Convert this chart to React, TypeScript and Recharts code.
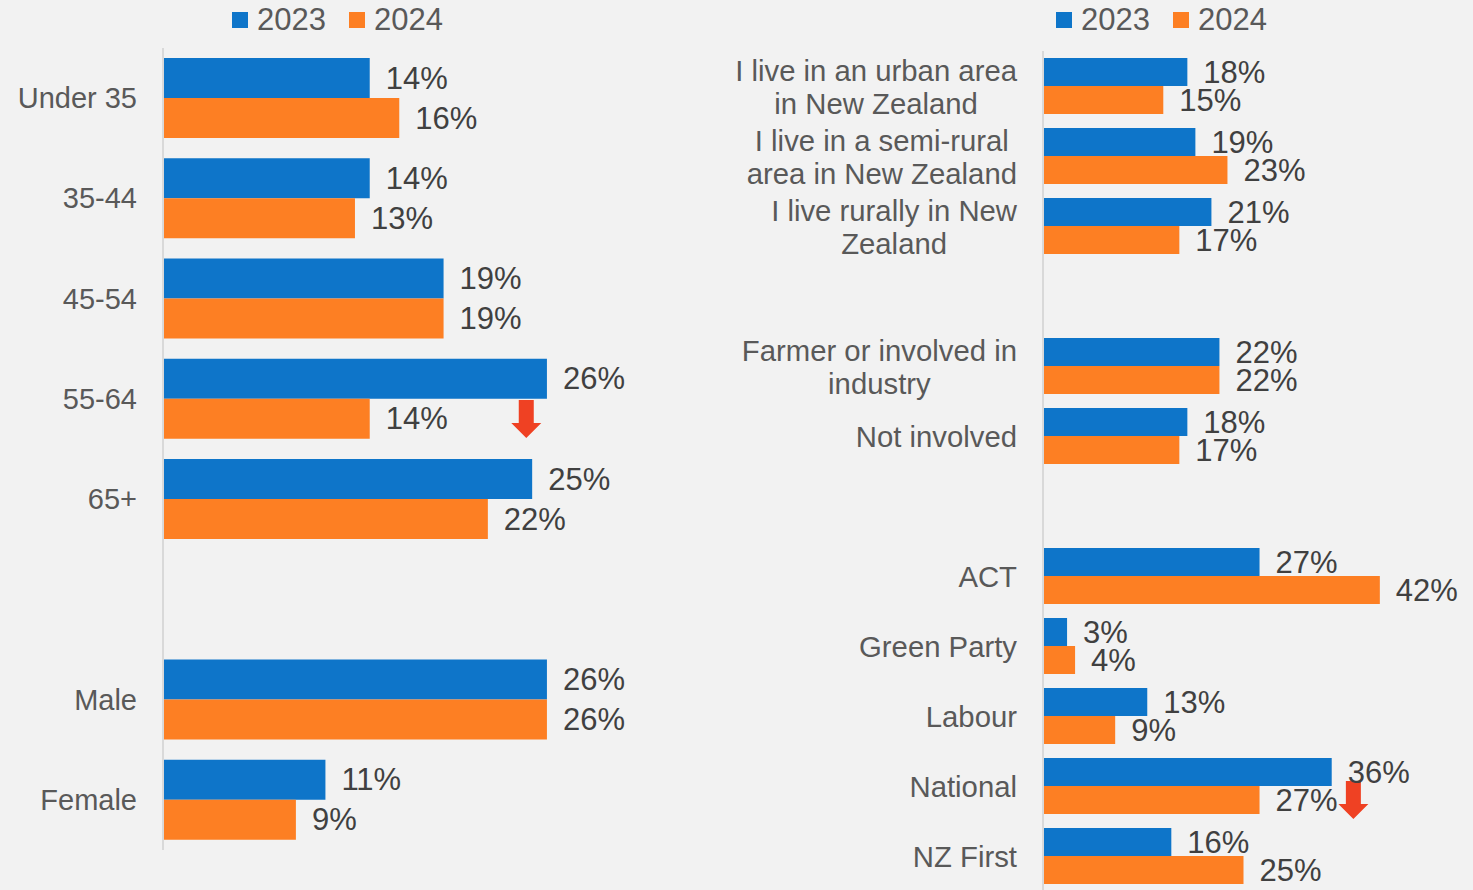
import React from "react";
import { BarChart, Bar, XAxis, YAxis, LabelList, ReferenceDot } from "recharts";

const FONT = "'Liberation Sans', Arial, Helvetica, sans-serif";
const BLUE = "#0e75c9";
const ORANGE = "#fd7f23";
const ARROW_RED = "#ef4123";
const BG = "#f2f2f2";
const LABEL_COLOR = "#595959";
const VALUE_COLOR = "#404040";

const seriesNames = ["2023", "2024"];

// Left panel: age & gender
const leftCategories = ["Under 35", "35-44", "45-54", "55-64", "65+", "", "Male", "Female"];
const left2023 = [14, 14, 19, 26, 25, null, 26, 11];
const left2024 = [16, 13, 19, 14, 22, null, 26, 9];
const leftDecreaseCats = ["55-64"];
const leftDecreaseAt = [24.6];

// Right panel: location, farming, party
const rightCategories = [
  "I live in an urban area\nin New Zealand",
  "I live in a semi-rural\narea in New Zealand",
  "I live rurally in New\nZealand",
  "",
  "Farmer or involved in\nindustry",
  "Not involved",
  "",
  "ACT",
  "Green Party",
  "Labour",
  "National",
  "NZ First",
];
const right2023 = [18, 19, 21, null, 22, 18, null, 27, 3, 13, 36, 16];
const right2024 = [15, 23, 17, null, 22, 17, null, 42, 4, 9, 27, 25];
const rightDecreaseCats = ["National"];
const rightDecreaseAt = [38.7];

const buildRows = (cats: string[], a: (number | null)[], b: (number | null)[]) =>
  cats.map((c, i) => ({ id: "c" + i, v2023: a[i], v2024: b[i] }));

const leftData = buildRows(leftCategories, left2023, left2024);
const rightData = buildRows(rightCategories, right2023, right2024);

let canvasCtx: CanvasRenderingContext2D | null = null;
function measure(text: string, font: string): number {
  if (!canvasCtx) {
    const c = document.createElement("canvas");
    canvasCtx = c.getContext("2d");
  }
  if (!canvasCtx) return text.length * 14;
  canvasCtx.font = font;
  return canvasCtx.measureText(text).width;
}

const makeTick = (labels: string[], gap: number, fontSize: number, lineHeight: number) => (props: any) => {
  const { x, y, payload } = props;
  const idx = Number(String(payload.value).slice(1));
  const label = labels[idx];
  if (!label) return <g />;
  const lines = label.split("\n");
  const widths = lines.map((l) => measure(l, `${fontSize}px ${FONT}`));
  const maxW = Math.max(...widths);
  const cx = x - gap - maxW / 2;
  const y0 = y - ((lines.length - 1) * lineHeight) / 2;
  return (
    <text
      x={cx}
      y={y0}
      textAnchor="middle"
      dominantBaseline="central"
      fontSize={fontSize}
      fontFamily={FONT}
      fill={LABEL_COLOR}
    >
      {lines.map((l, i) => (
        <tspan key={i} x={cx} y={y0 + i * lineHeight} dominantBaseline="central">
          {l}
        </tspan>
      ))}
    </text>
  );
};

const ValueLabel = (props: any) => {
  const { x, y, width, height, value } = props;
  if (value === null || value === undefined) return null;
  return (
    <text
      x={Number(x) + Number(width) + 16}
      y={Number(y) + Number(height) / 2}
      dominantBaseline="central"
      fontSize={31}
      fontFamily={FONT}
      fill={VALUE_COLOR}
    >
      {value}%
    </text>
  );
};

const makeArrow = (offset: number) => (p: any) => {
  const cx = Number(p.cx);
  const cy = Number(p.cy) + offset;
  const pts = [
    [cx - 7.5, cy - 19],
    [cx + 7.5, cy - 19],
    [cx + 7.5, cy + 4],
    [cx + 15, cy + 4],
    [cx, cy + 19],
    [cx - 15, cy + 4],
    [cx - 7.5, cy + 4],
  ]
    .map((q) => q.join(","))
    .join(" ");
  return <polygon points={pts} fill={ARROW_RED} />;
};

const Legend = ({ left }: { left: number }) => (
  <div
    style={{
      position: "absolute",
      left,
      top: 0,
      height: 40,
      display: "flex",
      alignItems: "center",
      fontFamily: FONT,
      fontSize: 31,
      color: LABEL_COLOR,
    }}
  >
    {seriesNames.map((n, i) => (
      <div key={n} style={{ display: "flex", alignItems: "center", marginRight: i === 0 ? 23 : 0 }}>
        <div style={{ width: 16, height: 16, background: i === 0 ? BLUE : ORANGE, marginRight: 9 }} />
        <span style={{ lineHeight: "40px" }}>{n}</span>
      </div>
    ))}
  </div>
);

export default function App() {
  return (
    <div
      style={{
        position: "fixed",
        left: 0,
        top: 0,
        width: 1473,
        height: 890,
        background: BG,
        overflow: "hidden",
      }}
    >
      <Legend left={232} />
      <Legend left={1056} />
      <div style={{ position: "absolute", left: 0, top: 0 }}>
        <BarChart
          width={656}
          height={890}
          data={leftData}
          layout="vertical"
          margin={{ top: 48, right: 50, bottom: 40, left: 0 }}
          barCategoryGap="10%"
          barGap={0}
        >
          <XAxis type="number" domain={[0, 30]} hide />
          <YAxis
            type="category"
            dataKey="id"
            width={163}
            tickLine={false}
            tickSize={0}
            tickMargin={0}
            axisLine={{ stroke: "#d9d9d9", strokeWidth: 2 }}
            tick={makeTick(leftCategories, 26, 29, 33)}
            interval={0}
          />
          <Bar dataKey="v2023" name={seriesNames[0]} fill={BLUE} isAnimationActive={false}>
            <LabelList dataKey="v2023" content={ValueLabel} />
          </Bar>
          <Bar dataKey="v2024" name={seriesNames[1]} fill={ORANGE} isAnimationActive={false}>
            <LabelList dataKey="v2024" content={ValueLabel} />
          </Bar>
          {leftDecreaseCats.map((c, i) => (
            <ReferenceDot
              key={c}
              x={leftDecreaseAt[i]}
              y={"c" + leftCategories.indexOf(c)}
              r={1}
              shape={makeArrow(20)}
            />
          ))}
        </BarChart>
      </div>
      <div style={{ position: "absolute", left: 700, top: 0 }}>
        <BarChart
          width={773}
          height={891}
          data={rightData}
          layout="vertical"
          margin={{ top: 51, right: 29, bottom: 0, left: 0 }}
          barCategoryGap="10%"
          barGap={0}
        >
          <XAxis type="number" domain={[0, 50]} hide />
          <YAxis
            type="category"
            dataKey="id"
            width={343}
            tickLine={false}
            tickSize={0}
            tickMargin={0}
            axisLine={{ stroke: "#d9d9d9", strokeWidth: 2 }}
            tick={makeTick(rightCategories, 26, 29.3, 33)}
            interval={0}
          />
          <Bar dataKey="v2023" name={seriesNames[0]} fill={BLUE} isAnimationActive={false}>
            <LabelList dataKey="v2023" content={ValueLabel} />
          </Bar>
          <Bar dataKey="v2024" name={seriesNames[1]} fill={ORANGE} isAnimationActive={false}>
            <LabelList dataKey="v2024" content={ValueLabel} />
          </Bar>
          {rightDecreaseCats.map((c, i) => (
            <ReferenceDot
              key={c}
              x={rightDecreaseAt[i]}
              y={"c" + rightCategories.indexOf(c)}
              r={1}
              shape={makeArrow(14)}
            />
          ))}
        </BarChart>
      </div>
    </div>
  );
}
